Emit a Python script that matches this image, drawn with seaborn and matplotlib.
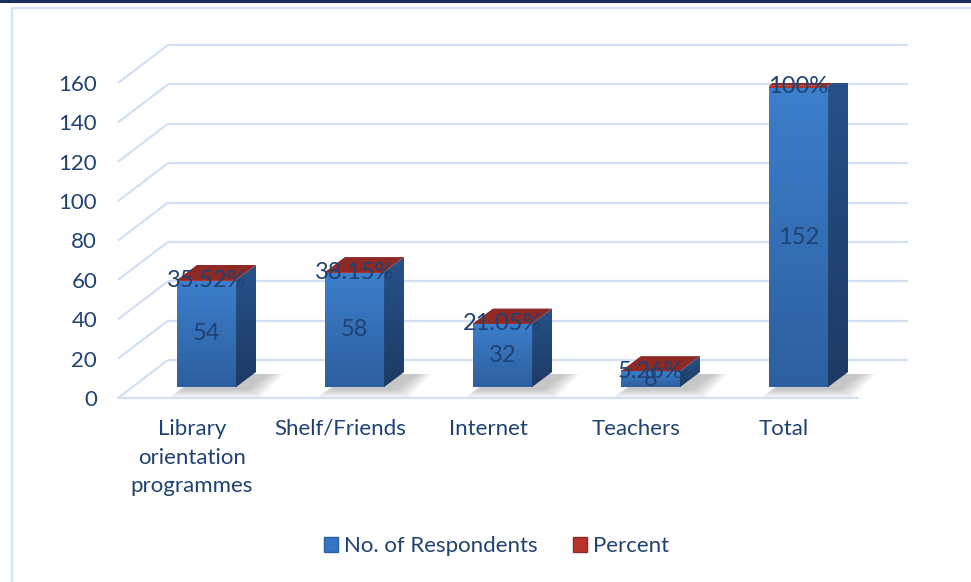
import numpy as np
import pandas as pd
import matplotlib
matplotlib.use("Agg")
import matplotlib.pyplot as plt
import seaborn as sns
from matplotlib.patches import Polygon, Patch, Rectangle
from matplotlib.lines import Line2D
from matplotlib.colors import LinearSegmentedColormap

# ---- data ----
categories = ["Library\norientation\nprogrammes", "Shelf/Friends", "Internet", "Teachers", "Total"]
respondents = [54, 58, 32, 8, 152]
percent = [35.52, 38.15, 21.05, 5.26, 100]
y_ticks = [0, 20, 40, 60, 80, 100, 120, 140, 160]

TEXT = "#1F4272"
GRID = "#D3E0F1"

sns.set_theme(style="white")
plt.rcParams["font.family"] = ["Lato", "DejaVu Sans"]

W, H = 971, 582
fig = plt.figure(figsize=(W / 100, H / 100), dpi=100)
fig.patch.set_facecolor("white")
ax = fig.add_axes([118 / W, 1 - 398 / H, 740 / W, 315 / H])
ax.set_facecolor("none")

df = pd.DataFrame({"source": categories, "n": respondents})
sns.barplot(data=df, x="source", y="n", width=0.4, color="#3575C2",
            saturation=1, ax=ax, zorder=4)

ax.set_xlim(-0.5, 4.5)
ax.set_ylim(0, 160)
for s in ax.spines.values():
    s.set_visible(False)
ax.set_xlabel("")
ax.set_ylabel("")

# pixel -> data unit scale factors
p0 = ax.transData.transform((0, 0))
p1 = ax.transData.transform((1, 1))
sx, sy = p1[0] - p0[0], p1[1] - p0[1]

def px(dx, dy):
    return dx / sx, dy / sy

wall_dx, wall_dy = px(50, 38)   # front plane -> back wall
fdx, fdy = px(14.5, 11)         # front plane -> bar front face
ddx, ddy = px(20, 15)           # bar depth

# ---- gridlines: diagonal side wall + horizontal back wall ----
for v in y_ticks:
    ax.plot([-0.5, -0.5 + wall_dx], [v, v + wall_dy], color=GRID, lw=1.6,
            zorder=1, clip_on=False, solid_capstyle="butt")
    ax.plot([-0.5 + wall_dx, 4.5 + wall_dx], [v + wall_dy] * 2, color=GRID,
            lw=1.6, zorder=1, clip_on=False, solid_capstyle="butt")
ax.plot([-0.5, 4.5], [0, 0], color=GRID, lw=1.6, zorder=1, clip_on=False)

front_cmap = LinearSegmentedColormap.from_list("front", ["#2D5F9F", "#3C7FCC"])
side_cmap = LinearSegmentedColormap.from_list("side", ["#1D3A63", "#28528A"])
grad = np.linspace(0, 1, 256).reshape(-1, 1)

bars = list(ax.patches)[:len(respondents)]
for bar, n, pct in zip(bars, respondents, percent):
    x0 = bar.get_x() + fdx
    w = bar.get_width()
    h = bar.get_height()
    bar.set_x(x0)
    bar.set_y(fdy)
    bar.set_facecolor("none")
    bar.set_edgecolor("none")

    # soft shadow on the floor, behind and right of the bar
    for k in range(7):
        e = px(2.2 * k, 1.2 * k)
        sh = Polygon([(x0 + px(6, 0)[0] - e[0], fdy - px(0, 3)[1] - e[1]),
                      (x0 + w + px(12, 0)[0] + e[0], fdy - px(0, 3)[1] - e[1]),
                      (x0 + w + ddx + px(14, 0)[0] + e[0], fdy + ddy - px(0, 2)[1]),
                      (x0 + ddx, fdy + ddy - px(0, 2)[1])],
                     closed=True, facecolor="#3A3A3A", edgecolor="none",
                     alpha=0.045, zorder=2, clip_on=False)
        ax.add_patch(sh)

    # front face gradient
    im = ax.imshow(grad, extent=[x0, x0 + w, fdy, fdy + h], origin="lower",
                   cmap=front_cmap, aspect="auto", zorder=4, interpolation="bilinear")
    im.set_clip_path(bar)

    top = fdy + h + pct / 100.0   # percent stacked as a fraction on top

    # percent segment front
    ax.add_patch(Rectangle((x0, fdy + h), w, max(pct / 100.0, px(0, 1.2)[1]),
                           facecolor="#B8332D", edgecolor="none", zorder=5))

    # side face gradient
    side = Polygon([(x0 + w, fdy), (x0 + w + ddx, fdy + ddy),
                    (x0 + w + ddx, top + ddy), (x0 + w, top)],
                   closed=True, facecolor="none", edgecolor="none", zorder=4)
    ax.add_patch(side)
    ims = ax.imshow(grad, extent=[x0 + w, x0 + w + ddx, fdy, top + ddy],
                    origin="lower", cmap=side_cmap, aspect="auto", zorder=4,
                    interpolation="bilinear")
    ims.set_clip_path(side)

    # top face (percent segment)
    ax.add_patch(Polygon([(x0, top), (x0 + w, top), (x0 + w + ddx, top + ddy),
                          (x0 + ddx, top + ddy)], closed=True,
                         facecolor="#8E2A26", edgecolor="none", zorder=5))

    # data labels
    ax.text(x0 + w / 2, fdy + h / 2, f"{n}", ha="center", va="center",
            fontsize=17, color=TEXT, zorder=7)
    ax.text(x0 + w / 2, fdy + h + pct / 200.0, f"{pct:g}%", ha="center",
            va="center", fontsize=17, color=TEXT, zorder=7)

ax.set_xlim(-0.5, 4.5)
ax.set_ylim(0, 160)

ax.set_yticks(y_ticks)
ax.set_yticklabels([str(t) for t in y_ticks])
ax.tick_params(axis="y", length=0, pad=15, labelsize=16, labelcolor=TEXT)
ax.set_xticks(range(len(categories)))
ax.set_xticklabels(categories, linespacing=1.55)
ax.tick_params(axis="x", length=0, pad=15, labelsize=16, labelcolor=TEXT)
ax.grid(False)

# legend
handles = [Patch(facecolor="#3575C2", edgecolor="#2D5F9F", label="No. of Respondents"),
           Patch(facecolor="#B8332D", edgecolor="#8E2A26", label="Percent")]
leg = fig.legend(handles=handles, loc="center", bbox_to_anchor=(0.511, 0.062),
                 ncol=2, frameon=False, fontsize=16, handlelength=0.65,
                 handleheight=0.65, handletextpad=0.25, columnspacing=1.6)
for t in leg.get_texts():
    t.set_color(TEXT)

# chart frame
fig.add_artist(Line2D([0, 1], [1 - 1 / H, 1 - 1 / H], color="#1B2F5F", lw=2.2,
                      transform=fig.transFigure))
fig.add_artist(Line2D([12 / W, 12 / W], [0, 1 - 8 / H], color="#D5E3F3", lw=1.6,
                      transform=fig.transFigure))
fig.add_artist(Line2D([12 / W, 1], [1 - 8 / H, 1 - 8 / H], color="#D5E3F3", lw=1.6,
                      transform=fig.transFigure))

fig.savefig("out.png", dpi=100)
